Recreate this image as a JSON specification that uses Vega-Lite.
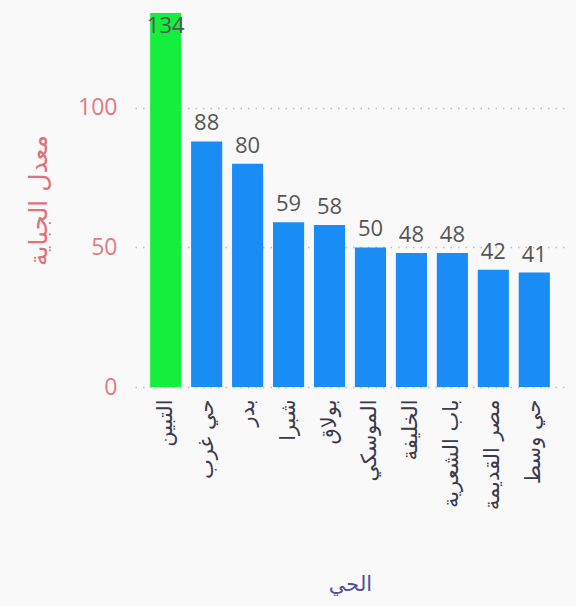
{
  "$schema": "https://vega.github.io/schema/vega-lite/v6.json",
  "autosize": "none",
  "width": 430,
  "height": 374,
  "padding": {"left": 135, "top": 13, "right": 11, "bottom": 219},
  "background": "#f9f9f9",
  "config": {
    "font": "Open Sans, DejaVu Sans",
    "view": {"stroke": null}
  },
  "data": {
    "values": [
      {"district": "التبين", "value": 134},
      {"district": "حي غرب", "value": 88},
      {"district": "بدر", "value": 80},
      {"district": "شبرا", "value": 59},
      {"district": "بولاق", "value": 58},
      {"district": "الموسكي", "value": 50},
      {"district": "الخليفة", "value": 48},
      {"district": "باب الشعرية", "value": 48},
      {"district": "مصر القديمة", "value": 42},
      {"district": "حي وسط", "value": 41}
    ]
  },
  "encoding": {
    "x": {
      "field": "district",
      "type": "nominal",
      "sort": null,
      "scale": {"paddingInner": 0.24, "paddingOuter": 0.37},
      "axis": {
        "title": "الحي",
        "titleColor": "#4f4fa3",
        "titleFontSize": 21,
        "titleFontWeight": "normal",
        "titleFont": "DejaVu Sans",
        "titleY": 197,
        "titleBaseline": "middle",
        "labelAngle": -90,
        "labelFont": "DejaVu Sans",
        "labelFontSize": 21,
        "labelColor": "#3a3a4a",
        "labelPadding": 12,
        "labelLimit": 200,
        "ticks": false,
        "domain": false
      }
    },
    "y": {
      "field": "value",
      "type": "quantitative",
      "scale": {"domain": [0, 134], "nice": false},
      "axis": {
        "title": "معدل الجباية",
        "titleColor": "#e0707a",
        "titleFontSize": 25,
        "titleFontWeight": "normal",
        "titleFont": "DejaVu Sans",
        "titleX": -97,
        "titleY": 187,
        "titleAngle": -90,
        "titleBaseline": "middle",
        "values": [0, 50, 100],
        "labelColor": "#e47a82",
        "labelFontSize": 23,
        "labelPadding": 18,
        "ticks": false,
        "domain": false,
        "grid": true,
        "gridColor": "#bdbdbd",
        "gridDash": [1.5, 6],
        "gridWidth": 1.5
      }
    }
  },
  "layer": [
    {
      "mark": {"type": "bar"},
      "encoding": {
        "color": {
          "condition": {"test": "datum.value > 100", "value": "#14ee3c"},
          "value": "#1a8cf5"
        }
      }
    },
    {
      "transform": [{"filter": "datum.value < 100"}],
      "mark": {"type": "text", "baseline": "bottom", "dy": -6, "fontSize": 22, "color": "#555555"},
      "encoding": {"text": {"field": "value", "type": "quantitative"}}
    },
    {
      "transform": [{"filter": "datum.value >= 100"}],
      "mark": {"type": "text", "baseline": "top", "dy": 3, "fontSize": 22, "color": "#555555"},
      "encoding": {"text": {"field": "value", "type": "quantitative"}}
    }
  ]
}
